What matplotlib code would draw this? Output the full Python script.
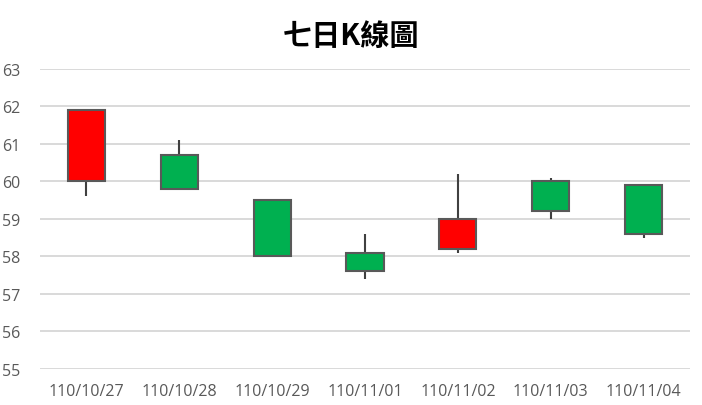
import matplotlib
matplotlib.use("Agg")
import matplotlib.pyplot as plt
from matplotlib.patches import Rectangle

# 七日K線 資料 (開, 高, 低, 收)
dates = ["110/10/27", "110/10/28", "110/10/29", "110/11/01", "110/11/02", "110/11/03", "110/11/04"]
opens = [60.0, 60.7, 59.5, 58.1, 58.2, 60.0, 59.9]
highs = [61.9, 61.1, 59.5, 58.6, 60.2, 60.1, 59.9]
lows = [59.6, 59.8, 58.0, 57.4, 58.1, 59.0, 58.5]
closes = [61.9, 59.8, 58.0, 57.6, 59.0, 59.2, 58.6]

fig = plt.figure(figsize=(7.02, 4.06), dpi=100)
ax = fig.add_axes([0.057, 0.0887, 0.926, 0.739])

largeur = 0.4
for i in range(len(dates)):
    o, h, l, c = opens[i], highs[i], lows[i], closes[i]
    x = i + 0.5
    bas, haut = min(o, c), max(o, c)
    couleur = "#FF0000" if c > o else "#00B050"
    if h > haut:
        ax.plot([x, x], [haut, h], color="#404040", lw=1.5, zorder=2, solid_capstyle="butt")
    if l < bas:
        ax.plot([x, x], [l, bas], color="#404040", lw=1.5, zorder=2, solid_capstyle="butt")
    ax.add_patch(Rectangle((x - largeur / 2, bas), largeur, haut - bas,
                           facecolor=couleur, edgecolor="#595959", lw=1.5, zorder=3))

ax.set_xlim(0, len(dates))
ax.set_ylim(55, 63)
ax.set_yticks(range(55, 64))
ax.set_xticks([i + 0.5 for i in range(len(dates))])
ax.set_xticklabels(dates)
ax.grid(axis="y", color="#D9D9D9", lw=1.4, zorder=0)
ax.set_axisbelow(True)
for s in ax.spines.values():
    s.set_visible(False)
ax.tick_params(length=0, colors="#595959", labelsize=11.5)
ax.tick_params(axis="x", pad=10)
ax.tick_params(axis="y", pad=14)
for lab in ax.get_xticklabels() + ax.get_yticklabels():
    lab.set_family("Open Sans")

fig.text(0.5, 0.912, "七日K線圖", ha="center", va="center", fontsize=21, fontweight="bold",
         family=["Noto Sans CJK TC", "DejaVu Sans"])

fig.savefig("out.png", dpi=100)
